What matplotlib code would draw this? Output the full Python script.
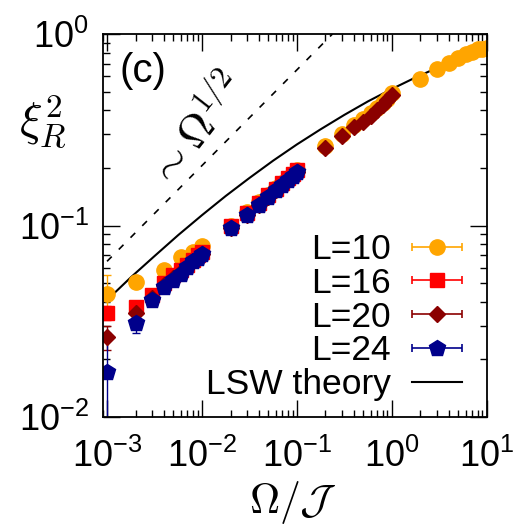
import numpy as np
import matplotlib
matplotlib.use('Agg')
import matplotlib.pyplot as plt
from matplotlib.legend_handler import HandlerErrorbar
from matplotlib.ticker import LogLocator, NullFormatter

plt.rcParams['font.family'] = ['Liberation Sans', 'DejaVu Sans']
plt.rcParams['mathtext.fontset'] = 'custom'
plt.rcParams['mathtext.rm'] = 'Liberation Sans'
plt.rcParams['mathtext.it'] = 'Liberation Sans:italic'
plt.rcParams['mathtext.bf'] = 'Liberation Sans:bold'

# L=10
x10 = [0.001, 0.002, 0.004, 0.006, 0.008, 0.01,
       0.02, 0.03, 0.04, 0.05, 0.06, 0.07, 0.08, 0.09, 0.1,
       0.2, 0.3, 0.4, 0.5, 0.6, 0.7, 0.8, 0.9, 1.0,
       2, 3, 4, 5, 6, 7, 8, 9, 10]
y10 = [0.0439, 0.0509, 0.0586, 0.0687, 0.073, 0.078,
       0.100, 0.117, 0.132, 0.145, 0.157, 0.167, 0.177, 0.186, 0.195,
       0.260, 0.300, 0.335, 0.360, 0.385, 0.410, 0.435, 0.460, 0.490,
       0.582, 0.654, 0.703, 0.747, 0.787, 0.809, 0.832, 0.840, 0.848]
e10 = [0.011, 0.003] + [0.001] * 31

# L=16
x16 = [0.001, 0.002, 0.003, 0.004, 0.005, 0.006, 0.007, 0.008, 0.009, 0.01,
       0.02, 0.03, 0.04, 0.05, 0.06, 0.07, 0.08, 0.09, 0.1]
y16 = [0.035, 0.0374, 0.0434, 0.050, 0.055, 0.0586, 0.062, 0.066, 0.070, 0.073,
       0.099, 0.116, 0.131, 0.144, 0.156, 0.166, 0.176, 0.185, 0.194]
e16 = [0.003, 0.002] + [0.001] * 17

# L=20
x20 = [0.001, 0.002, 0.003, 0.004, 0.005, 0.006, 0.007, 0.008, 0.009, 0.01,
       0.02, 0.03, 0.04, 0.05, 0.06, 0.07, 0.08, 0.09, 0.1,
       0.2, 0.3, 0.4, 0.5, 0.6, 0.7, 0.8, 0.9, 1.0]
y20 = [0.0262, 0.0348, 0.042, 0.049, 0.053, 0.057, 0.061, 0.065, 0.068, 0.071,
       0.097, 0.114, 0.128, 0.141, 0.153, 0.163, 0.173, 0.182, 0.191,
       0.253, 0.293, 0.326, 0.348, 0.375, 0.400, 0.425, 0.450, 0.480]
e20 = [0.0037, 0.002] + [0.001] * 26

# L=24
x24 = [0.001, 0.002, 0.003, 0.004, 0.005, 0.006, 0.007, 0.008, 0.009, 0.01,
       0.02, 0.03, 0.04, 0.05, 0.06, 0.07, 0.08, 0.09, 0.1]
y24 = [0.0172, 0.0308, 0.041, 0.048, 0.052, 0.056, 0.061, 0.065, 0.068, 0.071,
       0.0967, 0.1135, 0.1285, 0.141, 0.153, 0.163, 0.173, 0.182, 0.191]
e24 = [0.0103, 0.0035] + [0.001] * 17

# LSW theory curve, every quarter decade
x_lsw = [0.001, 0.00178, 0.00316, 0.00562, 0.01, 0.0178, 0.0316, 0.0562, 0.1,
         0.178, 0.316, 0.562, 1.0, 1.78, 3.16, 5.62, 10]
y_lsw = [0.0408, 0.0536, 0.0692, 0.0891, 0.1132, 0.1426, 0.177, 0.218, 0.265,
         0.318, 0.378, 0.445, 0.516, 0.593, 0.673, 0.755, 0.838]

# ~ Omega^(1/2) guide
x_guide = [0.001, 0.237]
y_guide = [0.065, 1.0]

series = [
    (x10, y10, e10, 'L=10', '#FFA500', 'o', 11),
    (x16, y16, e16, 'L=16', '#FF0000', 's', 10),
    (x20, y20, e20, 'L=20', '#8B0000', 'D', 8.5),
    (x24, y24, e24, 'L=24', '#00008B', 'p', 12),
]

fig = plt.figure(figsize=(5.16, 5.28), dpi=100)
ax = fig.add_axes([102.7 / 516, 111 / 528, 384 / 516, 383 / 528])

handles = []
for x, y, e, lab, c, m, ms in series:
    ax.errorbar(x, y, yerr=e, fmt=m, color=c, ms=ms, mec=c, elinewidth=1.0,
                capsize=3, capthick=1.0)
    # legend proxy with a horizontal bar, gnuplot style
    h = ax.errorbar([np.nan], [np.nan], xerr=[np.nan], fmt=m, color=c, ms=ms,
                    mec=c, elinewidth=1.2, capsize=3, capthick=1.2, label=lab)
    handles.append(h)

ax.plot(x_guide, y_guide, color='black', lw=1.2, dashes=(4, 6))
lsw, = ax.plot(x_lsw, y_lsw, color='black', lw=1.5, label='LSW theory')
handles.append(lsw)

ax.set_xscale('log')
ax.set_yscale('log')
ax.set_xlim(9e-4, 10)
ax.set_ylim(1e-2, 1)

ax.xaxis.set_major_locator(LogLocator(base=10, numticks=10))
ax.xaxis.set_minor_locator(LogLocator(base=10, subs=np.arange(2, 10), numticks=20))
ax.yaxis.set_minor_locator(LogLocator(base=10, subs=np.arange(2, 10), numticks=20))
ax.xaxis.set_minor_formatter(NullFormatter())
ax.yaxis.set_minor_formatter(NullFormatter())
ax.tick_params(which='both', direction='in', top=True, right=True, width=1.0)
ax.tick_params(which='major', length=12, labelsize=26)
ax.tick_params(axis='x', which='major', pad=16)
ax.tick_params(axis='y', which='major', pad=10)
ax.tick_params(which='minor', length=5)
for s in ax.spines.values():
    s.set_linewidth(1.3)

ax.set_xlabel(r'$\Omega/\mathcal{J}$', fontsize=30, math_fontfamily='cm',
              va='center')
ax.xaxis.set_label_coords(0.496, -0.222)
ax.set_ylabel(r'$\xi_R^2$', fontsize=34, rotation=0, math_fontfamily='cm',
              ha='center', va='center')
ax.yaxis.set_label_coords(-0.155, 0.768)

ax.text(142.5 / 516, 1 - 71.5 / 528, '(c)', transform=fig.transFigure,
        fontsize=29, ha='center', va='center')
ax.text(196.7 / 516, 1 - 131.7 / 528, r'$\sim\Omega^{1/2}$', transform=fig.transFigure,
        fontsize=32, ha='center', va='center', rotation=52,
        rotation_mode='anchor', math_fontfamily='cm')

ax.legend(handles=handles, loc='upper right', bbox_to_anchor=(0.936, 0.48),
          frameon=False, fontsize=25.5, markerfirst=False, numpoints=1,
          handlelength=1.42, handletextpad=0.6, labelspacing=0.02,
          borderpad=0, borderaxespad=0,
          handler_map={type(handles[0]): HandlerErrorbar(xerr_size=0.7)})

fig.savefig('out.png', dpi=100)
